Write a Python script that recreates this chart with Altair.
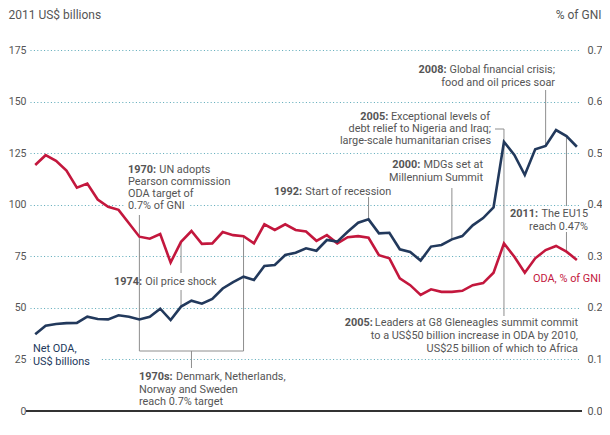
import altair as alt
import pandas as pd

# ---------------- data ----------------
years = list(range(1960, 2013))
net_oda = [37.2, 41.3, 42.2, 42.6, 42.7, 45.7, 44.6, 44.4, 46.4, 45.7,
           44.4, 45.7, 49.6, 44.1, 50.6, 53.5, 52.0, 54.3, 59.4, 62.5,
           65.1, 63.5, 70.3, 70.8, 75.6, 76.7, 78.9, 77.7, 82.9, 82.1,
           86.9, 91.3, 92.9, 86.1, 86.4, 78.4, 77.1, 72.9, 79.7, 80.5,
           83.2, 84.8, 90.0, 93.5, 98.7, 130.5, 124.1, 114.4, 126.9, 128.5,
           136.2, 133.3, 128.1]
oda_gni = [0.477, 0.496, 0.485, 0.466, 0.433, 0.441, 0.410, 0.396, 0.390, 0.364,
           0.338, 0.334, 0.343, 0.288, 0.328, 0.349, 0.324, 0.325, 0.347, 0.341,
           0.339, 0.325, 0.362, 0.351, 0.362, 0.351, 0.348, 0.330, 0.341, 0.325,
           0.337, 0.339, 0.336, 0.302, 0.296, 0.257, 0.244, 0.225, 0.236, 0.231,
           0.231, 0.233, 0.244, 0.248, 0.268, 0.325, 0.299, 0.268, 0.296, 0.312,
           0.320, 0.309, 0.293]
x_ticks = [1960, 1965, 1970, 1975, 1980, 1985, 1990, 1995, 2000, 2005, 2012]
left_ticks = [0, 25, 50, 75, 100, 125, 150, 175]
right_ticks = [0.0, 0.1, 0.2, 0.3, 0.4, 0.5, 0.6, 0.7]

NAVY = "#22395c"
RED = "#c3173d"
GRAY = "#555555"
LEAD = "#8e8e8e"
GRID = "#5aa9b8"
FONT = "Roboto"
FS = 10.9

W, H = 550, 361
X0, X1 = 1959.5, 2012.3
PPY = W / (X1 - X0)          # pixels per year
RATIO = 175 / 0.7            # left units per % of GNI


def navy_at(y):
    return net_oda[y - 1960]


def red_at(y):
    return oda_gni[y - 1960] * RATIO


def yr(px):
    # page-pixel anchor of an annotation -> year units
    return X0 + (px - 30) / PPY


def vv(py):
    # page-pixel anchor of an annotation -> left-axis units
    return (411 - py) * 175 / H


df = pd.DataFrame({"year": years, "oda": net_oda, "gni": oda_gni})

xs = alt.Scale(domain=[X0, X1], nice=False, zero=False)
ys = alt.Scale(domain=[0, 175], nice=False, zero=True)

# ---------------- main lines ----------------
navy = alt.Chart(df).mark_line(color=NAVY, strokeWidth=2.6, strokeJoin="miter").encode(
    x=alt.X("year:Q", scale=xs,
            axis=alt.Axis(values=x_ticks, format="d", grid=False, domain=False, ticks=False,
                          labelFont=FONT, labelFontSize=10.8, labelColor=GRAY, labelPadding=5,
                          title=None, labelFlush=False)),
    y=alt.Y("oda:Q", scale=ys,
            axis=alt.Axis(values=left_ticks, grid=True, gridDash=[1, 2.4], gridColor=GRID,
                          gridWidth=1, gridOpacity=1, domain=False, ticks=False,
                          labelFont=FONT, labelFontSize=10.5, labelColor=GRAY, labelPadding=4,
                          title="2011 US$ billions", titleAngle=0, titleAlign="left",
                          titleBaseline="middle", titleX=-22, titleY=-36, titleFont=FONT,
                          titleFontSize=12, titleFontWeight="normal", titleColor=GRAY)),
)

red = alt.Chart(df).mark_line(color=RED, strokeWidth=2.6, strokeJoin="miter").encode(
    x=alt.X("year:Q", scale=xs, axis=None),
    y=alt.Y("gni:Q", scale=alt.Scale(domain=[0, 0.7], nice=False, zero=True),
            axis=alt.Axis(orient="right", values=right_ticks, format=".1f", grid=False,
                          domain=False, ticks=False, labelFont=FONT, labelFontSize=10.8,
                          labelColor=GRAY, labelPadding=7,
                          title="% of GNI", titleAngle=0, titleAlign="right",
                          titleBaseline="middle", titleX=21, titleY=-36, titleFont=FONT,
                          titleFontSize=12, titleFontWeight="normal", titleColor=GRAY)),
)

zero_rule = alt.Chart(pd.DataFrame({"v": [0]})).mark_rule(color="#333333", strokeWidth=2).encode(
    y=alt.Y("v:Q", scale=ys, axis=None),
    x=alt.value(-4), x2=alt.value(W + 2),
)

# white boxes where the reference interrupts grid lines behind text
boxes = pd.DataFrame([
    dict(x=yr(125), x2=yr(190), y=vv(211), y2=vv(200)),
    dict(x=yr(31), x2=yr(100), y=vv(367), y2=vv(356)),
])
box = alt.Chart(boxes).mark_rect(color="white").encode(
    x=alt.X("x:Q", scale=xs, axis=None), x2="x2:Q",
    y=alt.Y("y:Q", scale=ys, axis=None), y2="y2:Q",
)

# ---------------- leader lines ----------------
BR = vv(351)  # bracket level
leaders = pd.DataFrame([
    dict(x=1970, x2=1970, y=BR, y2=vv(215)),
    dict(x=1970, x2=1980, y=BR, y2=BR),
    dict(x=1980, x2=1980, y=BR, y2=red_at(1980)),
    dict(x=1975, x2=1975, y=BR, y2=vv(368)),
    dict(x=1974, x2=1974, y=red_at(1974), y2=vv(273)),
    dict(x=1974, x2=1974, y=vv(290), y2=navy_at(1974)),
    dict(x=1992, x2=1992, y=vv(197), y2=navy_at(1992)),
    dict(x=2000, x2=2000, y=vv(188), y2=navy_at(2000)),
    dict(x=yr(495), x2=2005, y=vv(129), y2=vv(129)),
    dict(x=2005, x2=2005, y=vv(129), y2=vv(316)),
    dict(x=2009, x2=2009, y=vv(90), y2=navy_at(2009)),
    dict(x=2011, x2=2011, y=navy_at(2011), y2=vv(206)),
    dict(x=2011, x2=2011, y=vv(232), y2=red_at(2011)),
])
lead = alt.Chart(leaders).mark_rule(color=LEAD, strokeWidth=1).encode(
    x=alt.X("x:Q", scale=xs, axis=None), x2="x2:Q",
    y=alt.Y("y:Q", scale=ys, axis=None), y2="y2:Q",
)

# ---------------- annotation text ----------------
# approximate Roboto advance widths (em) to join bold year + normal text
EMW = {" ": .248, ",": .192, ".": .257, ";": .212, ":": .237, "-": .270, "%": .716, "$": .561,
       "a": .531, "b": .548, "c": .511, "d": .551, "e": .517, "f": .338, "g": .548, "h": .538,
       "i": .237, "j": .233, "k": .495, "l": .237, "m": .856, "n": .539, "o": .557, "p": .548,
       "q": .552, "r": .331, "s": .503, "t": .319, "u": .538, "v": .473, "w": .733, "x": .484,
       "y": .462, "z": .484, "A": .652, "D": .656, "E": .568, "G": .681, "I": .266, "M": .854,
       "N": .697, "O": .687, "P": .62, "S": .601, "T": .584, "U": .633}


def tw(s, bold=False, k=1.0):
    w = 0.0
    for c in s:
        if c.isdigit():
            w += .561
        else:
            w += EMW.get(c, .55)
    return w * FS * (1.04 if bold else k)


bold_rows, norm_left, norm_right = [], [], []


def head_left(bold, rest, px, py):
    bold_rows.append(dict(t=bold, x=yr(px), y=vv(py)))
    norm_left.append(dict(t=rest, x=yr(px + tw(bold, True) + tw(" ") + 0.5), y=vv(py)))


def head_right(bold, rest, px_right, py):
    norm_right.append(dict(t=rest, x=yr(px_right), y=vv(py)))
    bold_rows.append(dict(t=bold, x=yr(px_right - tw(rest, k=1.01) - tw(" ") - tw(bold, True) - 0.8),
                          y=vv(py)))


def lines(rows, target, px):
    for t, py in rows:
        target.append(dict(t=t, x=yr(px), y=vv(py)))


head_left("1970:", "UN adopts", 128, 170)
lines([("Pearson commission", 182), ("ODA target of", 194), ("0.7% of GNI", 206)], norm_left, 128)
head_left("1974:", "Oil price shock", 114, 282)
head_left("1992:", "Start of recession", 274, 192)
head_right("2000:", "MDGs set at", 483, 165)
lines([("Millennium Summit", 177.5)], norm_right, 483)
head_right("2005:", "Exceptional levels of", 490, 117)
lines([("debt relief to Nigeria and Iraq;", 129), ("large-scale humanitarian crises", 141)],
      norm_right, 491)
head_right("2008:", "Global financial crisis;", 555, 70)
lines([("food and oil prices soar", 82.5)], norm_right, 555)
head_right("2011:", "The EU15", 588, 214)
lines([("reach 0.47%", 226.5)], norm_right, 588)
head_right("2005:", "Leaders at G8 Gleneagles summit commit", 578, 323)
lines([("to a US$50 billion increase in ODA by 2010,", 336),
       ("US$25 billion of which to Africa", 349)], norm_right, 578)
head_left("1970s:", "Denmark, Netherlands,", 139, 377)
lines([("Norway and Sweden", 390), ("reach 0.7% target", 402)], norm_left, 139)

navy_lab = []
lines([("Net ODA,", 349), ("US$ billions", 362)], navy_lab, 33)
red_lab = []
lines([("ODA, % of GNI", 279)], red_lab, 601)


def text_layer(rows, align, color, weight="normal"):
    d = pd.DataFrame(rows)
    return alt.Chart(d).mark_text(align=align, baseline="middle", font=FONT, fontSize=FS,
                                  fontWeight=weight, color=color).encode(
        x=alt.X("x:Q", scale=xs, axis=None),
        y=alt.Y("y:Q", scale=ys, axis=None),
        text="t:N",
    )


texts = [text_layer(bold_rows, "left", GRAY, "bold"),
         text_layer(norm_left, "left", GRAY),
         text_layer(norm_right, "right", GRAY),
         text_layer(navy_lab, "left", NAVY),
         text_layer(red_lab, "right", RED)]

chart = alt.layer(box, lead, zero_rule, *texts, red, navy).resolve_scale(
    y="independent"
).properties(
    width=W, height=H,
    autosize=alt.AutoSizeParams(type="none"),
    padding={"left": 22, "right": 22, "top": 42, "bottom": 16},
).configure_view(stroke=None)

chart.save("out.html", embed_options={"renderer": "svg", "actions": False})
